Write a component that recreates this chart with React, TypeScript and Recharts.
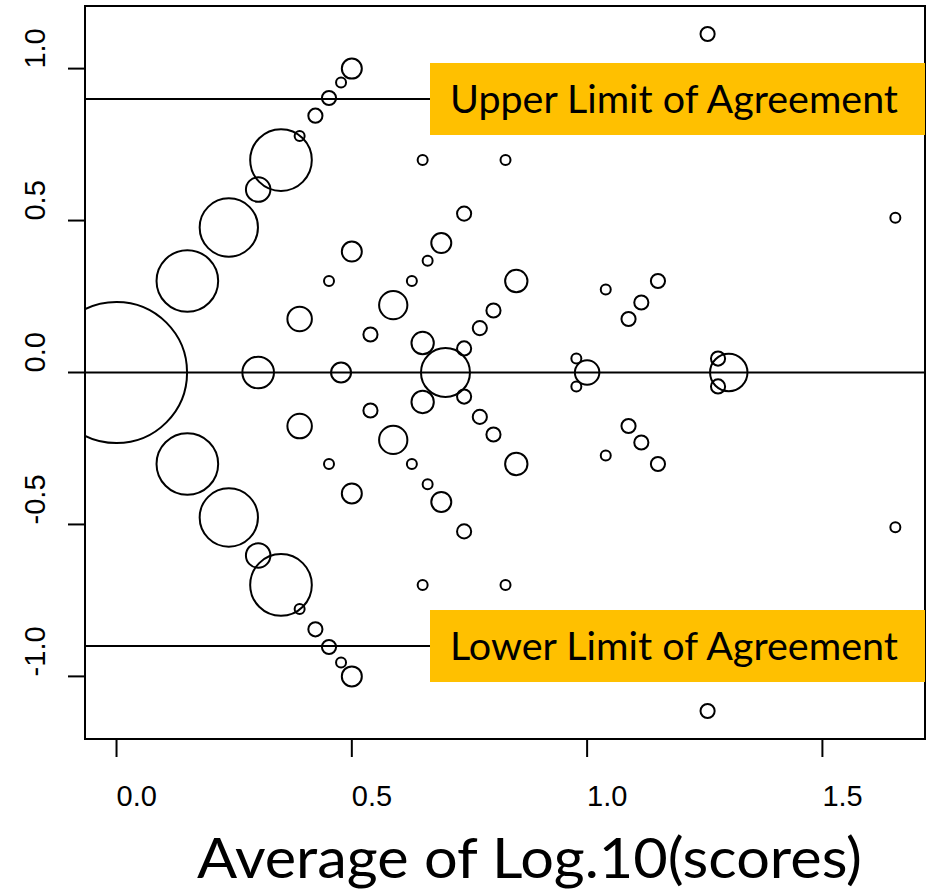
import React from 'react';
import {
  ScatterChart,
  Scatter,
  XAxis,
  YAxis,
  ZAxis,
  ReferenceLine,
  ReferenceArea,
} from 'recharts';

// Bland–Altman bubble plot: mean vs. difference of log10 scores,
// bubble area proportional to the number of identical pairs.

// Pairs with a positive difference
const upperMean = [
  0.1505, 0.2386, 0.301, 0.3495, 0.3891, 0.4226, 0.4515, 0.4771, 0.5,
  0.3891, 0.5396, 0.588, 0.5, 0.4515, 0.6276, 0.6611, 0.6901, 0.7386, 0.6505, 0.8266,
  0.6505, 0.7386, 0.772, 0.801, 0.8495,
  0.9771, 1.0396, 1.088, 1.1152, 1.1505, 1.2782, 1.655, 1.256,
];
const upperDiff = [
  0.301, 0.4771, 0.6021, 0.699, 0.7782, 0.8451, 0.9031, 0.9542, 1.0,
  0.1761, 0.1249, 0.2218, 0.3979, 0.301, 0.301, 0.368, 0.426, 0.5229, 0.699, 0.699,
  0.0969, 0.0792, 0.1461, 0.2041, 0.301,
  0.0458, 0.273, 0.1761, 0.2304, 0.301, 0.0458, 0.509, 1.114,
];
const upperCount = [
  38, 34, 6, 38, 1, 2, 2, 1, 4,
  6, 2, 8, 4, 1, 1, 1, 4, 2, 1, 1,
  5, 2, 2, 2, 5,
  1, 1, 2, 2, 2, 2, 1, 2,
];

// Pairs with identical scores
const zeroMean = [0, 0.301, 0.4771, 0.699, 1.0, 1.301];
const zeroDiff = [0, 0, 0, 0, 0, 0];
const zeroCount = [199, 10, 4, 24, 6, 14];

// Pairs with a negative difference
const lowerMean = [
  0.1505, 0.2386, 0.301, 0.3495, 0.3891, 0.4226, 0.4515, 0.4771, 0.5,
  0.3891, 0.5396, 0.588, 0.5, 0.4515, 0.6276, 0.6611, 0.6901, 0.7386, 0.6505, 0.8266,
  0.6505, 0.7386, 0.772, 0.801, 0.8495,
  0.9771, 1.0396, 1.088, 1.1152, 1.1505, 1.2782, 1.655, 1.256,
];
const lowerDiff = [
  -0.301, -0.4771, -0.6021, -0.699, -0.7782, -0.8451, -0.9031, -0.9542, -1.0,
  -0.1761, -0.1249, -0.2218, -0.3979, -0.301, -0.301, -0.368, -0.426, -0.5229, -0.699, -0.699,
  -0.0969, -0.0792, -0.1461, -0.2041, -0.301,
  -0.0458, -0.273, -0.1761, -0.2304, -0.301, -0.0458, -0.509, -1.114,
];
const lowerCount = [
  38, 34, 6, 38, 1, 2, 2, 1, 4,
  6, 2, 8, 4, 1, 1, 1, 4, 2, 1, 1,
  5, 2, 2, 2, 5,
  1, 1, 2, 2, 2, 2, 1, 2,
];

const xTicks = [0, 0.5, 1, 1.5];
const yTicks = [-1, -0.5, 0, 0.5, 1];
const xDomain: [number, number] = [-0.067, 1.718];
const yDomain: [number, number] = [-1.206, 1.206];

const meanDiff = 0;
const upperLimit = 0.9;
const lowerLimit = -0.9;
const upperLimitLabel = 'Upper Limit of Agreement';
const lowerLimitLabel = 'Lower Limit of Agreement';
const xTitle = 'Average of Log.10(scores)';

const maxCount = 200;

const toRows = (mean: number[], diff: number[], count: number[]) =>
  mean.map((m, i) => ({ mean: m, diff: diff[i], n: count[i] }));

const points = [
  ...toRows(zeroMean, zeroDiff, zeroCount),
  ...toRows(upperMean, upperDiff, upperCount),
  ...toRows(lowerMean, lowerDiff, lowerCount),
];

const TICK_FONT = '"Liberation Sans", Arial, sans-serif';
const NOTE_FONT = 'Lato, "Open Sans", sans-serif';

const Bubble = (p: any) => {
  const r =
    typeof p.size === 'number' ? Math.sqrt(p.size / Math.PI) : (p.width ?? 0) / 2;
  return (
    <circle cx={p.cx} cy={p.cy} r={r} fill="none" stroke="#000" strokeWidth={2} />
  );
};

const XTick = (p: any) => (
  <text
    x={p.x}
    y={p.y + 47}
    textAnchor="start"
    fontFamily={TICK_FONT}
    fontSize={29}
    fill="#000"
  >
    {Number(p.payload.value).toFixed(1)}
  </text>
);

const YTick = (p: any) => {
  const bx = p.x - 21;
  return (
    <text
      x={bx}
      y={p.y}
      transform={`rotate(-90, ${bx}, ${p.y})`}
      textAnchor="start"
      fontFamily={TICK_FONT}
      fontSize={29}
      fill="#000"
    >
      {Number(p.payload.value).toFixed(1)}
    </text>
  );
};

const limitTag = (text: string) => (p: any) => {
  const vb = p.viewBox || {};
  const x0 = vb.x ?? 85;
  const w = vb.width ?? 840;
  const cy = (vb.y ?? 0) + (vb.height ?? 0) / 2;
  const boxX = x0 + 345;
  return (
    <g>
      <rect x={boxX} y={cy - 36} width={x0 + w - boxX} height={72} fill="#FFC000" />
      <text
        x={boxX + 20}
        y={cy + 14}
        fontFamily={NOTE_FONT}
        fontSize={38}
        fill="#000"
        textLength={448}
        lengthAdjust="spacingAndGlyphs"
      >
        {text}
      </text>
    </g>
  );
};

const axisTitle = (p: any) => {
  const vb = p.viewBox || { x: 85, y: 739 };
  return (
    <text
      x={vb.x + 112}
      y={vb.y + 139}
      fontFamily={NOTE_FONT}
      fontSize={56}
      fill="#000"
      textLength={665}
      lengthAdjust="spacingAndGlyphs"
    >
      {xTitle}
    </text>
  );
};

export default function App() {
  return (
    <div style={{ position: 'absolute', left: 0, top: 0, background: '#fff' }}>
      <ScatterChart
        width={926}
        height={890}
        margin={{ top: 6, right: 1, bottom: 11, left: 25 }}
      >
        <XAxis
          type="number"
          dataKey="mean"
          domain={xDomain}
          ticks={xTicks}
          allowDataOverflow
          height={140}
          axisLine={false}
          tickSize={18}
          tickMargin={2}
          tickLine={{ stroke: '#000', strokeWidth: 2 }}
          tick={<XTick />}
          label={axisTitle}
        />
        <YAxis
          type="number"
          dataKey="diff"
          domain={yDomain}
          ticks={yTicks}
          allowDataOverflow
          width={60}
          axisLine={false}
          tickSize={17}
          tickMargin={2}
          tickLine={{ stroke: '#000', strokeWidth: 2 }}
          tick={<YTick />}
        />
        <ZAxis
          type="number"
          dataKey="n"
          domain={[0, maxCount]}
          range={[0, maxCount * 25 * Math.PI]}
        />
        <ReferenceLine y={meanDiff} stroke="#000" strokeWidth={2} />
        <ReferenceLine
          y={upperLimit}
          stroke="#000"
          strokeWidth={2}
          label={limitTag(upperLimitLabel)}
        />
        <ReferenceLine
          y={lowerLimit}
          stroke="#000"
          strokeWidth={2}
          label={limitTag(lowerLimitLabel)}
        />
        <Scatter data={points} shape={Bubble} isAnimationActive={false} />
        <ReferenceArea
          x1={xDomain[0]}
          x2={xDomain[1]}
          y1={yDomain[0]}
          y2={yDomain[1]}
          fill="none"
          stroke="#000"
          strokeWidth={2}
          ifOverflow="visible"
        />
      </ScatterChart>
    </div>
  );
}
